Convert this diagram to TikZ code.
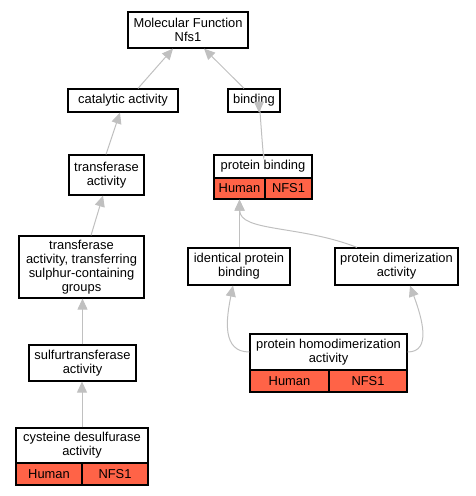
\documentclass[tikz,border=0pt]{standalone}
\usepackage{fontspec}
\setmainfont{Liberation Sans}
\usetikzlibrary{arrows.meta}
\definecolor{cellred}{RGB}{255,99,71}
\definecolor{edgegray}{RGB}{192,192,192}
\tikzset{
  box/.style={draw=black, line width=1.2pt, fill=white, inner sep=0pt, align=center,
    font=\fontsize{12.9}{14}\selectfont},
  cell/.style={box, fill=cellred},
  edge/.style={draw=edgegray, line width=1pt, -{Triangle[length=11pt,width=10pt,fill=edgegray]}}
}
\begin{document}
\begin{tikzpicture}[x=1pt,y=-1pt]
\useasboundingbox (0,0) rectangle (475,496);
% nodes
\node[box, minimum width=120pt, minimum height=36pt] (mf) at (188,30) {Molecular Function\\Nfs1};
\node[box, minimum width=110pt, minimum height=23pt] (cat) at (123,100.5) {catalytic activity};
\node[box, minimum width=52pt, minimum height=23pt] (bind) at (254,100.5) {binding};
\node[box, minimum width=75pt, minimum height=40pt] (tr) at (106.5,175) {transferase\\activity};
\node[box, minimum width=125pt, minimum height=62pt] (tsg) at (81.5,267) {transferase\\activity, transferring\\sulphur-containing\\groups};
\node[box, minimum width=107pt, minimum height=36pt] (sulf) at (82.5,363) {sulfurtransferase\\activity};
\node[box, minimum width=132pt, minimum height=35pt] (cys) at (82,445.5) {cysteine desulfurase\\activity};
\node[cell, minimum width=66pt, minimum height=22pt] (cysh) at (49,474) {Human};
\node[cell, minimum width=66pt, minimum height=22pt] (cysn) at (115,474) {NFS1};
\node[box, minimum width=98pt, minimum height=23pt] (pb) at (263,166.5) {protein binding};
\node[cell, minimum width=51pt, minimum height=21pt] (pbh) at (239.5,188.5) {Human};
\node[cell, minimum width=47pt, minimum height=21pt] (pbn) at (288.5,188.5) {NFS1};
\node[box, minimum width=102pt, minimum height=37pt] (ipb) at (239,266.5) {identical protein\\binding};
\node[box, minimum width=123pt, minimum height=37pt] (pda) at (396.5,266.5) {protein dimerization\\activity};
\node[box, minimum width=157pt, minimum height=36pt] (phd) at (328.5,352) {protein homodimerization\\activity};
\node[cell, minimum width=79pt, minimum height=22pt] (phdh) at (289.5,381) {Human};
\node[cell, minimum width=78pt, minimum height=22pt] (phdn) at (368,381) {NFS1};
% edges
\draw[edge] ([xshift=15pt]cat.north) -- ([xshift=-15pt]mf.south);
\draw[edge] ([xshift=-10pt]bind.north) -- ([xshift=16pt]mf.south);
\draw[edge] ([xshift=-0.5pt]tr.north) -- ([xshift=-3pt]cat.south);
\draw[edge] ([xshift=9.5pt]tsg.north) -- ([xshift=-3.5pt]tr.south);
\draw[edge] (sulf.north) -- ([xshift=1pt]tsg.south);
\draw[edge] (cys.north) -- ([xshift=-0.5pt]sulf.south);
\draw[edge] ([xshift=1pt]pb.north) .. controls ([xshift=1pt,yshift=-20pt]pb.north) and ([xshift=5pt,yshift=20pt]bind.south) .. ([xshift=5pt]bind.south);
\draw[edge] ([xshift=0.5pt]ipb.north) -- (pbh.south);
\draw[edge] ([xshift=-39.5pt]pda.north) .. controls (300,225) and (240,232) .. (pbh.south);
\draw[edge] (phd.west) .. controls (222,352) and (226,320) .. ([xshift=-6pt]ipb.south);
\draw[edge] (phd.east) .. controls (432,352) and (422,318) .. ([xshift=13.5pt]pda.south);
\end{tikzpicture}
\end{document}
